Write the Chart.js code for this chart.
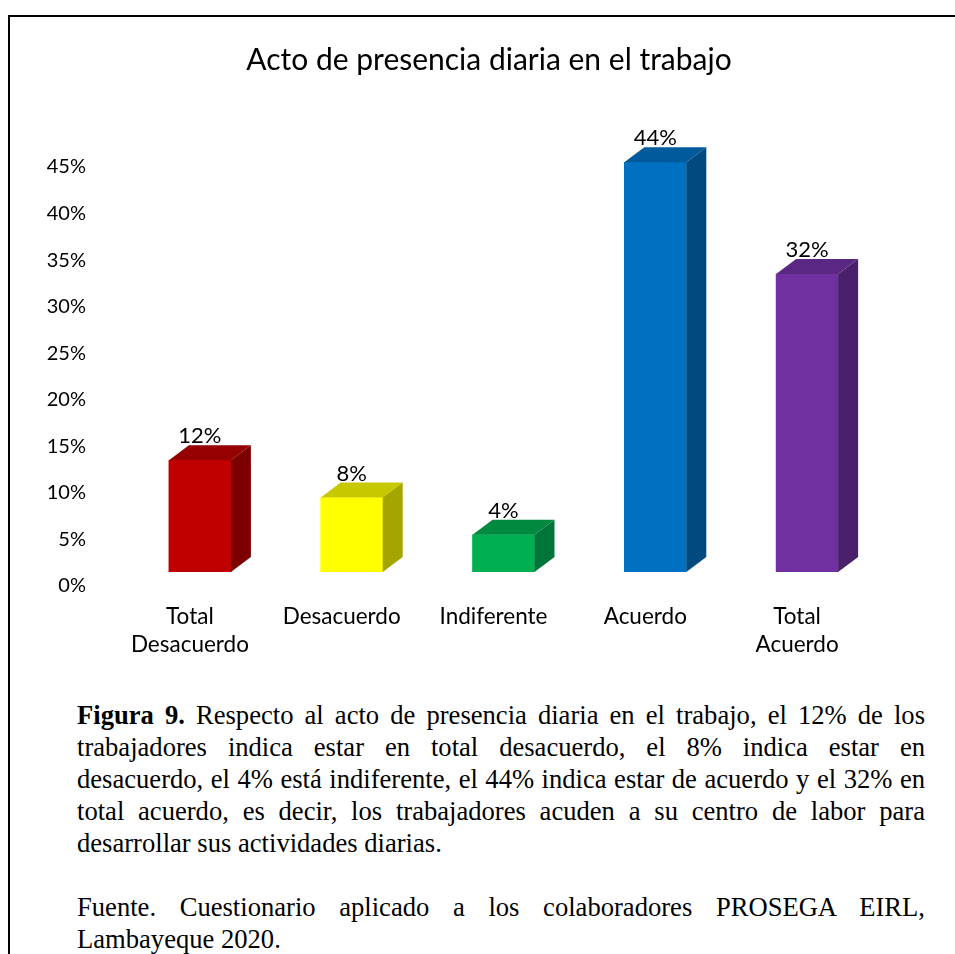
<!DOCTYPE html>
<html>
<head>
<meta charset="utf-8">
<script src="https://cdn.jsdelivr.net/npm/chart.js@4.4.1/dist/chart.umd.min.js"></script>
<style>
  html, body { margin: 0; padding: 0; background: #fff; }
  body { width: 955px; height: 954px; position: relative; overflow: hidden; }
  #frame { position: absolute; left: 8px; top: 15px; width: 1000px; height: 1000px;
           border-left: 2px solid #000; border-top: 2px solid #000; box-sizing: border-box; }
  #wrap { position: absolute; left: 0; top: 0; width: 955px; height: 680px; }
  #caption { position: absolute; left: 77px; top: 699px; width: 848px;
             font-family: "Liberation Serif", "Times New Roman", serif; font-size: 26.6px;
             line-height: 32px; color: #000; }
  #caption .j { text-align: justify; text-align-last: justify; white-space: nowrap; }
  #caption .l { text-align: left; white-space: nowrap; }
</style>
</head>
<body>
<div id="frame"></div>
<div id="wrap"><canvas id="c" width="955" height="680"></canvas></div>
<div id="caption">
  <div class="j"><b>Figura 9.</b> Respecto al acto de presencia diaria en el trabajo, el 12% de los</div>
  <div class="j">trabajadores indica estar en total desacuerdo, el 8% indica estar en</div>
  <div class="j">desacuerdo, el 4% está indiferente, el 44% indica estar de acuerdo y el 32% en</div>
  <div class="j">total acuerdo, es decir, los trabajadores acuden a su centro de labor para</div>
  <div class="l">desarrollar sus actividades diarias.</div>
  <div class="l">&nbsp;</div>
  <div class="j">Fuente. Cuestionario aplicado a los colaboradores PROSEGA EIRL,</div>
  <div class="l">Lambayeque 2020.</div>
</div>
<script>
const chartTitle = "Acto de presencia diaria en el trabajo";
const categories = [["Total", "Desacuerdo"], "Desacuerdo", "Indiferente", "Acuerdo", ["Total", "Acuerdo"]];
const values = [12, 8, 4, 44, 32];
const frontColors = ["#C00000", "#FFFF00", "#00B050", "#0070C0", "#7030A0"];
const topColors   = ["#960000", "#C8C800", "#008A40", "#005A9C", "#5A2882"];
const sideColors  = ["#7C0000", "#A5A500", "#00753A", "#004A80", "#4A1F6C"];
const yTicks = [0, 5, 10, 15, 20, 25, 30, 35, 40, 45];

const DX = 20, DY = 15;

const box3d = {
  id: 'box3d',
  afterDatasetsDraw(chart) {
    const ctx = chart.ctx;
    const meta = chart.getDatasetMeta(0);
    meta.data.forEach((bar, i) => {
      const p = bar.getProps(['x', 'y', 'base', 'width'], true);
      const l = p.x - p.width / 2, r = p.x + p.width / 2;
      ctx.save();
      ctx.fillStyle = topColors[i];
      ctx.beginPath();
      ctx.moveTo(l, p.y); ctx.lineTo(l + DX, p.y - DY); ctx.lineTo(r + DX, p.y - DY); ctx.lineTo(r, p.y);
      ctx.closePath(); ctx.fill();
      ctx.fillStyle = sideColors[i];
      ctx.beginPath();
      ctx.moveTo(r, p.y); ctx.lineTo(r + DX, p.y - DY); ctx.lineTo(r + DX, p.base - DY); ctx.lineTo(r, p.base);
      ctx.closePath(); ctx.fill();
      ctx.fillStyle = '#000';
      ctx.font = '22px Lato';
      ctx.textAlign = 'center';
      ctx.textBaseline = 'middle';
      ctx.fillText(values[i] + '%', p.x, p.y - 24);
      ctx.restore();
    });
  }
};

new Chart(document.getElementById('c'), {
  type: 'bar',
  data: {
    labels: categories,
    datasets: [{ data: values, backgroundColor: frontColors, barThickness: 62, borderWidth: 0, yAxisID: 'y' }]
  },
  options: {
    responsive: false,
    animation: false,
    devicePixelRatio: 1,
    layout: { padding: { left: 23, right: 0, top: 0, bottom: 0 } },
    plugins: {
      legend: { display: false },
      tooltip: { enabled: false },
      title: {
        display: true, text: chartTitle, color: '#000',
        font: { family: 'Lato', size: 30, weight: 'normal', lineHeight: 1.2 },
        padding: { top: 42, bottom: 75 }
      }
    },
    scales: {
      x: {
        grid: { display: false, drawTicks: false },
        border: { display: false },
        ticks: { color: '#000', font: { family: 'Lato', size: 22.5, lineHeight: 1.25 }, padding: 31, labelOffset: -10, maxRotation: 0, autoSkip: false },
        afterFit: (s) => { s.height = 108; }
      },
      y: {
        min: 0, max: 45,
        grid: { display: false, drawTicks: false },
        border: { display: false },
        afterBuildTicks: (s) => { s.ticks = yTicks.map(v => ({ value: v })); },
        ticks: { color: '#000', font: { family: 'Lato', size: 20 }, padding: 38, labelOffset: 14,
                 callback: (v) => v + '%' },
        afterFit: (s) => { s.width = 101; }
      },
      yRight: {
        position: 'right', min: 0, max: 45,
        grid: { display: false, drawTicks: false },
        border: { display: false },
        ticks: { display: false },
        afterFit: (s) => { s.width = 72; }
      }
    }
  },
  plugins: [box3d]
});
</script>
</body>
</html>
